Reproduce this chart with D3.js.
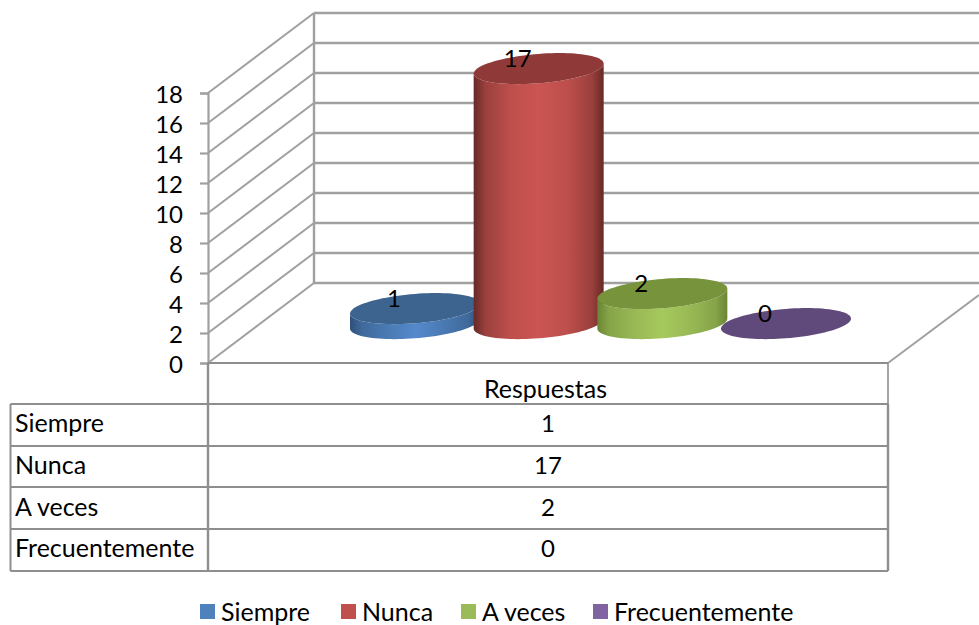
<!DOCTYPE html>
<html><head><meta charset="utf-8">
<script src="https://cdn.jsdelivr.net/npm/d3@7/dist/d3.min.js"></script>
<style>html,body{margin:0;padding:0;background:#fff}svg{display:block}text{font-family:Lato,"Open Sans",sans-serif;fill:#000}</style>
</head><body><script>
const categories = ["Siempre","Nunca","A veces","Frecuentemente"];
const values = [1,17,2,0];
const groupLabel = "Respuestas";
const yTicks = [0,2,4,6,8,10,12,14,16,18];
const bodyMid = ["#5489cc","#cb5552","#a6c95c","#7f63a1"];
const bodyEdge = ["#2f5078","#662927","#6a8535","#4a3862"];
const bodyShade = ["#4a79b2","#bd4f4c","#98b855","#705690"];
const topFill = ["#3d648f","#8f3a38","#77933c","#604a7b"];
const swatch = ["#4f81bd","#c0504d","#9bbb59","#8064a2"];
const legendX = [200,341,461,593];

const W=979,H=625,FS=25,NS=24,GRID="#a0a0a0";
const svg=d3.select("body").append("svg").attr("width",W).attr("height",H);
const y=d3.scaleLinear().domain([0,18]).range([363,93]);
const DX=106,DY=-80,frontX=208,rightX=888,tableL=10.5;
const x=d3.scalePoint().domain(categories).range([415,786]);
const baseY=y(0)-40, RX=65, RY=14.7, TILT=5;

// walls
const g=svg.append("g").attr("fill","none").attr("stroke",GRID).attr("stroke-width",2);
yTicks.forEach(v=>{
  if(v>0) g.append("path").attr("d",`M${frontX},${y(v)}L${frontX+DX},${y(v)+DY}`);
  g.append("path").attr("d",`M${frontX+DX},${y(v)+DY}H${W}`).attr("stroke-width",2.4);
});
g.append("path").attr("d",`M${frontX},${y(0)}L${frontX+DX},${y(0)+DY}`);
g.append("path").attr("d",`M${frontX+DX},${y(18)+DY}V${y(0)+DY}`).attr("stroke-width",2.4);
g.append("path").attr("d",`M${rightX},${y(0)}L${W},${y(0)-68}`);

// y axis
const ax=svg.append("g").attr("transform",`translate(${frontX},0)`).call(d3.axisLeft(y).tickValues(yTicks).tickSize(8).tickPadding(17));
ax.selectAll("path,line").attr("stroke",GRID).attr("stroke-width",2.2);
ax.selectAll("text").attr("font-size",NS).attr("dy","0.39em").style("font-family","Lato");

// gradients
const defs=svg.append("defs");
categories.forEach((c,i)=>{
  const lg=defs.append("linearGradient").attr("id","b"+i);
  const m=d3.interpolateRgb(bodyEdge[i],bodyShade[i])(0.6);
  [[0,bodyEdge[i]],[.09,m],[.28,bodyShade[i]],[.5,bodyMid[i]],[.72,bodyShade[i]],[.91,m],[1,bodyEdge[i]]].forEach(s=>
    lg.append("stop").attr("offset",s[0]).attr("stop-color",s[1]));
});

// tilted ellipse points, left to right along lower or upper half
function arc(cx,cy,lower){
  const pts=[];
  for(let k=0;k<=48;k++){
    const t=Math.PI*k/48;
    const c=-Math.cos(t);
    pts.push([cx+RX*c, cy-TILT*c+(lower?RY:-RY)*Math.sin(t)]);
  }
  return pts;
}
const ln=d3.line();
const bars=svg.append("g").attr("transform","translate(0,0.6)");
categories.forEach((c,i)=>{
  const cx=x(c), h=y(0)-y(values[i]), top=baseY-h;
  if(h>0){
    const low=arc(cx,baseY,true), up=arc(cx,top,true).reverse();
    bars.append("path").attr("d",ln(low.concat(up))+"Z").attr("fill",`url(#b${i})`);
  }
  const e=arc(cx,top,true).concat(arc(cx,top,false).reverse());
  bars.append("path").attr("d",ln(e)+"Z").attr("fill",topFill[i]);
});
// data labels
categories.forEach((c,i)=>{
  svg.append("text").attr("x",x(c)-21).attr("y",y(values[i])-40-10).attr("dy","0.38em")
    .attr("text-anchor","middle").attr("font-size",NS).text(values[i]);
});

// data table
const rowY=d3.scalePoint().domain(categories).range([424.5,549.5]);
const lines=[404,446,487,529,571];
const tb=svg.append("g").attr("fill","none").attr("stroke","#8e8e8e").attr("stroke-width",2);
lines.forEach(l=>tb.append("path").attr("d",`M${tableL},${l}H${rightX}`));
tb.append("path").attr("d",`M${tableL},404V571`);
tb.append("path").attr("d",`M${frontX},363V571`).attr("stroke-width",2.4);
tb.append("path").attr("d",`M${rightX},404V571`).attr("stroke-width",2.4);
tb.append("path").attr("d",`M${rightX},363V404`).attr("stroke-width",1.6);
tb.append("path").attr("d",`M${frontX},363H${rightX}`);
const mid=(frontX+rightX)/2;
svg.append("text").attr("x",mid-2.5).attr("y",389.5).attr("dy","0.35em").attr("text-anchor","middle").attr("font-size",FS).text(groupLabel);
categories.forEach((c,i)=>{
  svg.append("text").attr("x",15).attr("y",rowY(c)-1).attr("dy","0.35em").attr("font-size",FS).text(c);
  svg.append("text").attr("x",mid).attr("y",rowY(c)-0.5).attr("dy","0.35em").attr("text-anchor","middle").attr("font-size",NS).text(values[i]);
});

// legend
categories.forEach((c,i)=>{
  svg.append("rect").attr("x",legendX[i]).attr("y",604).attr("width",15).attr("height",15).attr("fill",swatch[i]);
  svg.append("text").attr("x",legendX[i]+21).attr("y",612).attr("dy","0.35em").attr("font-size",FS).text(c);
});
</script></body></html>
